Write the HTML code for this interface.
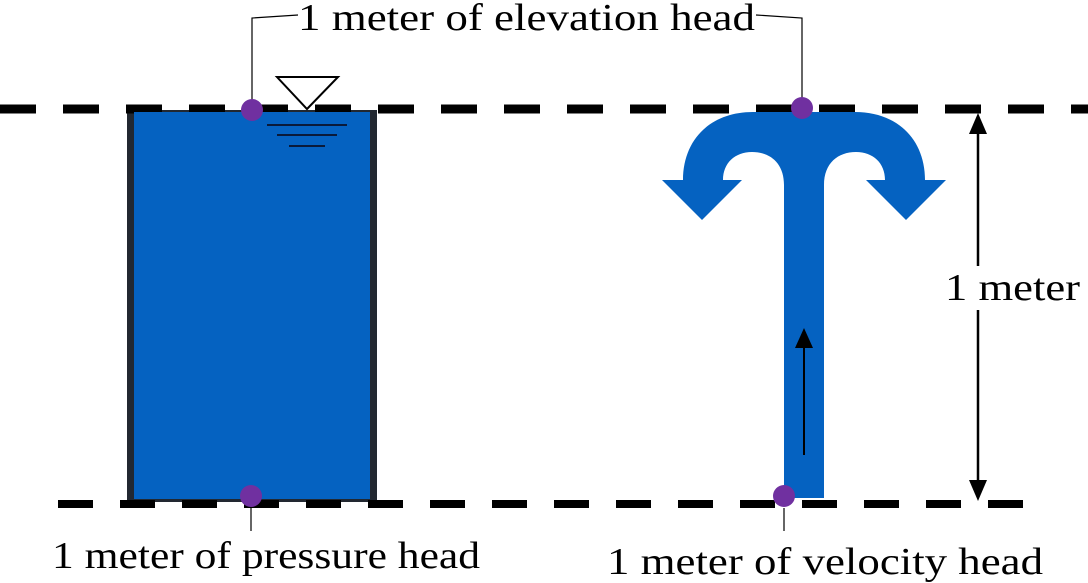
<!DOCTYPE html>
<html><head><meta charset="utf-8"><style>html,body{margin:0;padding:0;background:#fff}svg{display:block}text{font-family:"Liberation Serif",serif;font-size:38px;fill:#000}</style></head>
<body>
<svg width="1088" height="583" viewBox="0 0 1088 583" xmlns="http://www.w3.org/2000/svg">
<g>
<rect x="127" y="110" width="250" height="392" fill="#222831"/>
<rect x="134" y="112" width="236" height="387" fill="#0562C1"/>
</g>
<line x1="0" y1="109" x2="1088" y2="109" stroke="#000" stroke-width="9" stroke-dasharray="36 27"/>
<line x1="58" y1="504" x2="1035" y2="504" stroke="#000" stroke-width="8" stroke-dasharray="35 27"/>
<rect x="134" y="112" width="236" height="4" fill="#0562C1"/>
<path d="M277 77 H338 L307 109 Z" fill="#fff" stroke="#000" stroke-width="2"/>
<g stroke="#0a1a3a" stroke-width="2">
<line x1="267" y1="125" x2="347" y2="125"/><line x1="277" y1="135" x2="337" y2="135"/><line x1="289" y1="146" x2="325" y2="146"/>
</g>
<path fill="#0562C1" d="M662 180 L683 180 C683 140 710 112 753 112 H855 C898 112 925 140 925 180 L946 180 L906 220 L866 180 L885 180 C885 163 873 152 856 152 C838 152 824 163 824 185 V498 H784 V185 C784 163 770 152 752 152 C735 152 723 163 723 180 L742 180 L702 220 Z"/>
<g>
<line x1="804" y1="455" x2="804" y2="345" stroke="#000" stroke-width="2"/>
<path d="M804 328 L795 348 L813 348 Z" fill="#000"/>
</g>
<g>
<line x1="978" y1="130" x2="978" y2="485" stroke="#000" stroke-width="2.5"/>
<path d="M978 113 L969 134 L987 134 Z" fill="#000"/>
<path d="M978 501 L969 480 L987 480 Z" fill="#000"/>
<rect x="942" y="266" width="142" height="44" fill="#fff"/>
</g>
<text x="945" y="300" textLength="135" lengthAdjust="spacingAndGlyphs">1 meter</text>
<g stroke="#000" stroke-width="1.2" fill="none">
<path d="M252 100 V18 L298 15"/>
<path d="M802 100 V18 L756 15"/>
<line x1="251" y1="508" x2="251" y2="531"/>
<line x1="784" y1="508" x2="784" y2="531"/>
</g>
<circle cx="252" cy="110" r="11" fill="#7030A0"/>
<circle cx="251" cy="496" r="11" fill="#7030A0"/>
<circle cx="802" cy="108" r="11" fill="#7030A0"/>
<circle cx="784" cy="496" r="11" fill="#7030A0"/>
<text x="298" y="30" textLength="457" lengthAdjust="spacingAndGlyphs">1 meter of elevation head</text>
<text x="52" y="568" textLength="428" lengthAdjust="spacingAndGlyphs">1 meter of pressure head</text>
<text x="607" y="574" textLength="436" lengthAdjust="spacingAndGlyphs">1 meter of velocity head</text>
</svg>
</body></html>
